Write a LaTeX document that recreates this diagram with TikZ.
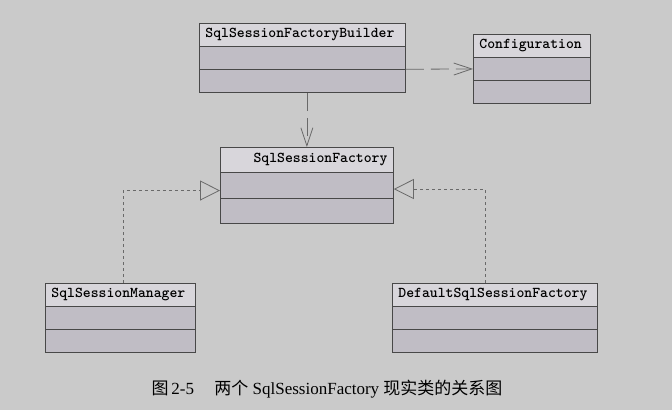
\documentclass[tikz,border=0pt]{standalone}
\usepackage{fontspec}
\setmainfont{Liberation Serif}
\newfontfamily\cjk{Noto Sans CJK SC}
\usetikzlibrary{shapes.multipart,arrows.meta}
\definecolor{bgcol}{RGB}{202,202,202}
\definecolor{headcol}{RGB}{216,214,219}
\definecolor{bodycol}{RGB}{192,189,197}
\definecolor{edgecol}{RGB}{72,72,72}
\definecolor{linkcol}{RGB}{105,105,105}
\tikzset{
  umlclass/.style={rectangle split, rectangle split parts=3,
    rectangle split part fill={headcol,bodycol,bodycol},
    draw=edgecol, line width=0.8pt, anchor=north west, align=left,
    font=\ttfamily\bfseries\fontsize{15}{15}\selectfont, inner xsep=6pt, inner ysep=4.6pt,
    rectangle split empty part height=10.2pt, rectangle split empty part depth=3pt},
  uses/.style={draw=linkcol, line width=0.8pt, dash pattern=on 18pt off 7pt,
    -{Straight Barb[length=18pt,width=12pt]}},
  realizes/.style={draw=linkcol, line width=0.8pt, dash pattern=on 3pt off 3pt,
    -{Triangle[open,length=20pt,width=20pt,fill=bgcol]}}
}
\begin{document}
\begin{tikzpicture}[x=1pt,y=-1pt]
  \fill[bgcol] (0,0) rectangle (672,410);
  \useasboundingbox (0,0) rectangle (672,410);
  \node[umlclass, text width=194pt] (builder) at (199,23) {SqlSessionFactoryBuilder};
  \node[umlclass, text width=105pt] (config) at (473,34) {Configuration};
  \node[umlclass, text width=161pt, align=right, inner ysep=5.8pt] (factory) at (220,147) {SqlSessionFactory};
  \node[umlclass, text width=138pt] (manager) at (45,283) {SqlSessionManager};
  \node[umlclass, text width=193pt] (dflt) at (392,283) {DefaultSqlSessionFactory};
  \node[font=\fontsize{17}{17}\selectfont] (caption) at (327,389)
    {{\cjk 图}\,2-5\hspace{1.2em}{\cjk 两个} SqlSessionFactory {\cjk 现实类的关系图}};
  % dependencies
  \draw[uses] (builder.two split east) -- (config.west);
  \draw[uses] (factory.north |- builder.south) -- (factory.north);
  % implementations
  \draw[realizes] ([xshift=3pt]manager.north) |- ([yshift=-5pt]factory.west);
  \draw[realizes] ([xshift=-10pt]dflt.north) |- ([yshift=-3.5pt]factory.east);
\end{tikzpicture}
\end{document}
